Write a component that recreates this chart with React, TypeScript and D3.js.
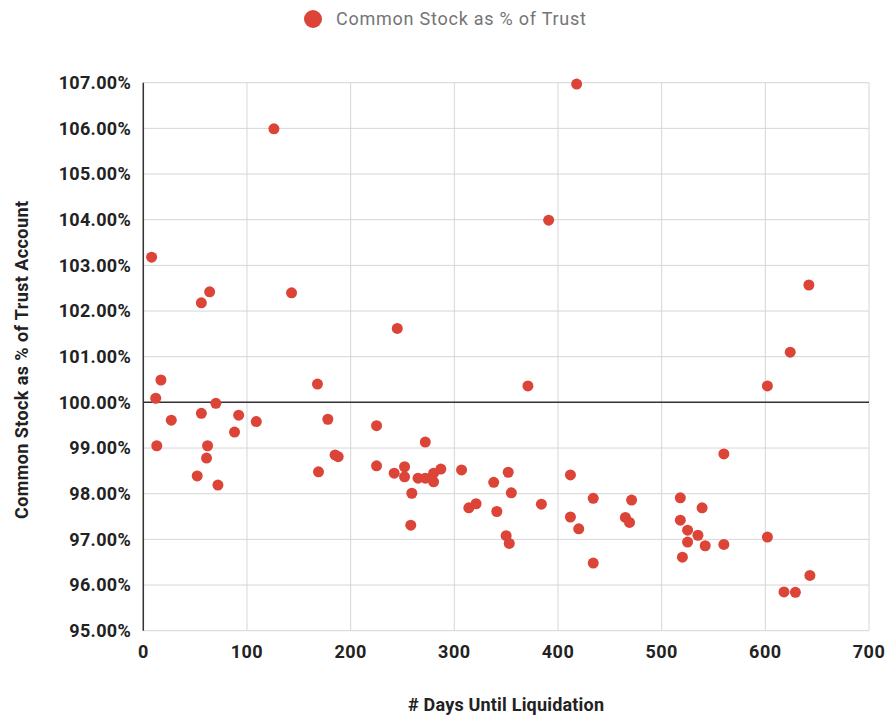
import React from "react";
import * as d3 from "d3";

const days: number[] = [
  8, 126, 64, 56, 143, 418, 391, 245, 17, 12, 70, 56, 27, 92, 109, 88, 13, 62, 61, 52, 72,
  168, 178, 185, 188, 169, 225, 225, 371, 272, 242, 252, 252, 265, 272, 280, 280, 287, 259,
  258, 307, 314, 321, 338, 352, 355, 341, 350, 353, 384, 412, 412, 420, 434, 434, 471, 465,
  469, 624, 602, 560, 518, 539, 518, 525, 535, 525, 542, 560, 520, 602, 643, 618, 629, 642,
];
const values: number[] = [
  103.18, 105.99, 102.42, 102.18, 102.4, 106.97, 103.99, 101.62, 100.49, 100.09, 99.98, 99.76,
  99.61, 99.72, 99.58, 99.35, 99.05, 99.05, 98.78, 98.39, 98.19, 100.4, 99.63, 98.85, 98.81,
  98.48, 99.49, 98.61, 100.36, 99.13, 98.45, 98.59, 98.37, 98.34, 98.34, 98.45, 98.26, 98.54,
  98.01, 97.31, 98.52, 97.69, 97.78, 98.25, 98.47, 98.02, 97.61, 97.08, 96.91, 97.77, 98.41,
  97.49, 97.23, 97.9, 96.48, 97.86, 97.48, 97.37, 101.1, 100.36, 98.87, 97.91, 97.69, 97.42,
  97.2, 97.09, 96.94, 96.86, 96.89, 96.61, 97.05, 96.21, 95.85, 95.84, 102.57,
];
const xTicks: number[] = [0, 100, 200, 300, 400, 500, 600, 700];
const yTicks: number[] = [95, 96, 97, 98, 99, 100, 101, 102, 103, 104, 105, 106, 107];
const seriesName = "Common Stock as % of Trust";
const xTitle = "# Days Until Liquidation";
const yTitle = "Common Stock as % of Trust Account";

const RED = "#db4437";
const FONT = "Roboto, 'Noto Sans', sans-serif";

export default function App() {
  const W = 892;
  const H = 718;
  const x = d3.scaleLinear().domain([0, 700]).range([143.3, 869]);
  const y = d3.scaleLinear().domain([95, 107]).range([630.7, 82.7]);
  const fmt = (v: number) => v.toFixed(2) + "%";

  return (
    <div style={{ position: "absolute", left: 0, top: 0 }}>
      <svg width={W} height={H} style={{ display: "block", background: "#fff" }}>
        {/* legend */}
        <circle cx={313} cy={19} r={9} fill={RED} />
        <text x={336} y={19} dy="0.35em" fontFamily={FONT} fontSize={18} fill="#757575"
          textLength={250}>
          {seriesName}
        </text>

        {/* grid */}
        {yTicks.map((t) => (
          <line key={"gy" + t} x1={x(0)} x2={x(700)} y1={y(t)} y2={y(t)} stroke="#d6d6d6" strokeWidth={1} />
        ))}
        {xTicks.map((t) => (
          <line key={"gx" + t} x1={x(t)} x2={x(t)} y1={y(95)} y2={y(107)} stroke="#d6d6d6" strokeWidth={1} />
        ))}
        {/* baseline at 100% and y axis */}
        <line x1={x(0)} x2={x(700)} y1={y(100)} y2={y(100)} stroke="#333" strokeWidth={1.5} />
        <line x1={x(0)} x2={x(0)} y1={y(95)} y2={y(107)} stroke="#333" strokeWidth={1.5} />

        {/* y tick labels */}
        {yTicks.map((t) => (
          <text key={"ly" + t} x={131} y={y(t)} dy="0.35em" textAnchor="end" fontFamily={FONT}
            fontWeight="bold" fontSize={18} letterSpacing={0.3} fill="#222">
            {fmt(t)}
          </text>
        ))}
        {/* x tick labels */}
        {xTicks.map((t) => (
          <text key={"lx" + t} x={x(t)} y={652} dy="0.35em" textAnchor="middle" fontFamily={FONT}
            fontWeight="bold" fontSize={18} letterSpacing={0.5} fill="#222">
            {t}
          </text>
        ))}

        {/* axis titles */}
        <text x={506} y={705} dy="0.35em" textAnchor="middle" fontFamily={FONT} fontWeight="bold"
          fontSize={18} fill="#222" textLength={196}>
          {xTitle}
        </text>
        <text transform={`translate(22,360) rotate(-90)`} dy="0.35em" textAnchor="middle"
          fontFamily={FONT} fontWeight="bold" fontSize={18} fill="#222" textLength={318}>
          {yTitle}
        </text>

        {/* points */}
        {days.map((d, i) => (
          <circle key={"p" + i} cx={x(d)} cy={y(values[i])} r={5.5} fill={RED} />
        ))}
      </svg>
    </div>
  );
}
